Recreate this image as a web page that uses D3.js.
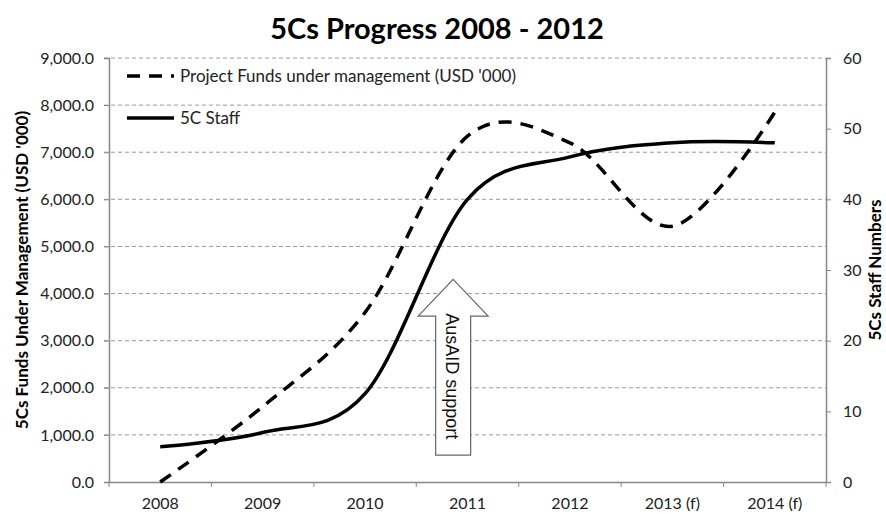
<!DOCTYPE html>
<html>
<head>
<meta charset="utf-8">
<script src="https://cdn.jsdelivr.net/npm/d3@7"></script>
<style>
  body { margin: 0; background: #fff; }
</style>
</head>
<body>
<div id="chart"></div>
<script>
// data
let years = ["2008", "2009", "2010", "2011", "2012", "2013 (f)", "2014 (f)"]
let funds = [0, 1600, 3600, 7340, 7200, 5430, 7850]   // USD '000
let staff = [5, 7, 12.5, 40, 46, 48, 48]
let fundTicks = [0, 1000, 2000, 3000, 4000, 5000, 6000, 7000, 8000, 9000]
let staffTicks = [0, 10, 20, 30, 40, 50, 60]

let W = 886, H = 516
let plotLeft = 109, plotRight = 826, plotTop = 58, plotBottom = 482
let font = "Lato, 'Open Sans', sans-serif"

let svg = d3.select("#chart")
    .append("svg")
    .attr("width", W)
    .attr("height", H)
    .style("font-family", font)

let x = d3.scaleBand().domain(years).range([plotLeft, plotRight])
let yL = d3.scaleLinear().domain([0, 9000]).range([plotBottom, plotTop])
let yR = d3.scaleLinear().domain([0, 60]).range([plotBottom, plotTop])
let cx = d => x(d) + x.bandwidth() / 2

// gridlines
svg.append("g")
    .selectAll("line")
    .data(fundTicks.filter(d => d > 0))
    .enter()
    .append("line")
    .attr("x1", plotLeft - 5)
    .attr("x2", plotRight)
    .attr("y1", d => yL(d))
    .attr("y2", d => yL(d))
    .attr("stroke", "#9a9a9a")
    .attr("stroke-width", 1)
    .attr("stroke-dasharray", "4,3")

// axes
let axisColor = "#888"
let gL = svg.append("g")
    .attr("transform", "translate(" + plotLeft + ",0)")
    .call(d3.axisLeft(yL).tickValues(fundTicks).tickFormat(d3.format(",.1f")).tickSize(5).tickPadding(10))
let gR = svg.append("g")
    .attr("transform", "translate(" + plotRight + ",0)")
    .call(d3.axisRight(yR).tickValues(staffTicks).tickSize(5).tickPadding(12))
let gB = svg.append("g")
    .attr("transform", "translate(0," + plotBottom + ")")
    .call(d3.axisBottom(x).tickSize(0).tickPadding(16))

// tick marks on category boundaries
gB.selectAll(".bound")
    .data(years.concat(["end"]))
    .enter()
    .append("line")
    .attr("x1", (d, i) => plotLeft + i * x.step())
    .attr("x2", (d, i) => plotLeft + i * x.step())
    .attr("y1", 0)
    .attr("y2", 5)
    .attr("stroke", axisColor)

;[gL, gR, gB].forEach(g => {
    g.select(".domain").attr("stroke", axisColor).attr("stroke-width", 1.5)
    g.selectAll(".tick line").attr("stroke", axisColor)
    g.selectAll("text")
        .style("font-family", font)
        .style("font-size", "16px")
        .attr("fill", "#222")
})
gR.selectAll("text").attr("x", 17)

// series
let lineFunds = d3.line()
    .x((d, i) => cx(years[i]))
    .y(d => yL(d))
    .curve(d3.curveCardinal.tension(0))
let lineStaff = d3.line()
    .x((d, i) => cx(years[i]))
    .y(d => yR(d))
    .curve(d3.curveCardinal.tension(0))

svg.append("path")
    .datum(funds)
    .attr("d", lineFunds)
    .attr("fill", "none")
    .attr("stroke", "#000")
    .attr("stroke-width", 3.5)
    .attr("stroke-dasharray", "13,9")

svg.append("path")
    .datum(staff)
    .attr("d", lineStaff)
    .attr("fill", "none")
    .attr("stroke", "#000")
    .attr("stroke-width", 3.5)

// AusAID arrow
let ax = x("2011") + x.bandwidth() * 0.36
let tipY = yL(4300), headY = yL(3520), baseY = yL(570)
let arrowPts = [
    [ax, tipY], [ax + 35, headY], [ax + 17.5, headY], [ax + 17.5, baseY],
    [ax - 17.5, baseY], [ax - 17.5, headY], [ax - 35, headY]
]
svg.append("polygon")
    .attr("points", arrowPts.map(p => p.join(",")).join(" "))
    .attr("fill", "#fff")
    .attr("stroke", "#666")
    .attr("stroke-width", 1.2)
svg.append("text")
    .attr("transform", "translate(" + (ax - 1) + "," + (headY + 60) + ") rotate(90)")
    .attr("text-anchor", "middle")
    .attr("dy", "0.35em")
    .style("font-family", "'Liberation Sans', Arial, sans-serif")
    .style("font-size", "18px")
    .attr("fill", "#111")
    .text("AusAID support")

// legend
let legend = [
    { label: "Project Funds under management (USD '000)", dash: "13,9", y: 76 },
    { label: "5C Staff", dash: null, y: 118 }
]
let lg = svg.append("g")
lg.selectAll("line")
    .data(legend)
    .enter()
    .append("line")
    .attr("x1", 127)
    .attr("x2", 174)
    .attr("y1", d => d.y)
    .attr("y2", d => d.y)
    .attr("stroke", "#000")
    .attr("stroke-width", 3.5)
    .attr("stroke-dasharray", d => d.dash)
lg.selectAll("text")
    .data(legend)
    .enter()
    .append("text")
    .attr("x", 180)
    .attr("y", d => d.y)
    .attr("dy", "0.35em")
    .style("font-size", "17px")
    .attr("fill", "#222")
    .text(d => d.label)

// titles
svg.append("text")
    .attr("x", 437)
    .attr("y", 39)
    .attr("text-anchor", "middle")
    .style("font-size", "29px")
    .style("font-weight", "bold")
    .attr("fill", "#000")
    .text("5Cs Progress 2008 - 2012")

svg.append("text")
    .attr("transform", "translate(22," + ((plotTop + plotBottom) / 2) + ") rotate(-90)")
    .attr("text-anchor", "middle")
    .attr("dy", "0.35em")
    .style("font-size", "17px")
    .style("font-weight", "bold")
    .text("5Cs Funds Under Management (USD '000)")

svg.append("text")
    .attr("transform", "translate(875," + ((plotTop + plotBottom) / 2) + ") rotate(-90)")
    .attr("text-anchor", "middle")
    .attr("dy", "0.35em")
    .style("font-size", "17px")
    .style("font-weight", "bold")
    .text("5Cs Staff Numbers")
</script>
</body>
</html>
